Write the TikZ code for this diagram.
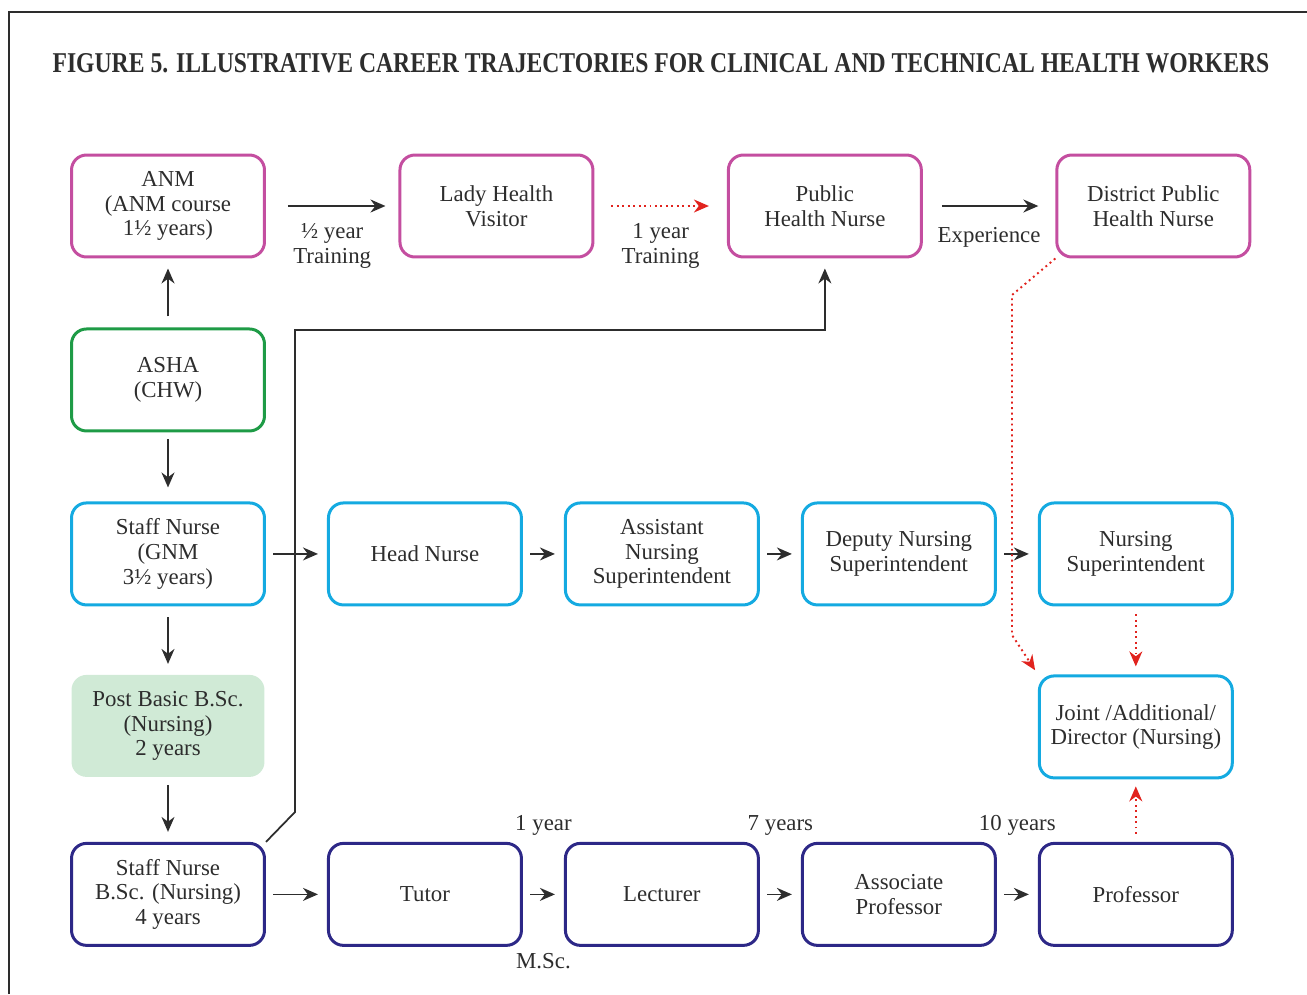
\documentclass[tikz,border=0pt]{standalone}
\usepackage{fontspec}
\setmainfont{Liberation Serif}
\usetikzlibrary{arrows.meta, positioning}
\definecolor{anmpink}{RGB}{196, 78, 160}
\definecolor{ashagreen}{RGB}{30, 155, 70}
\definecolor{nursecyan}{RGB}{20, 170, 225}
\definecolor{tutornavy}{RGB}{45, 40, 135}
\definecolor{postgreen}{RGB}{208, 234, 214}
\definecolor{pathred}{RGB}{225, 35, 30}
\definecolor{inkgray}{RGB}{45, 45, 45}

\begin{document}
\begin{tikzpicture}[
        x=0.02cm, y=-0.02cm,
        node distance=1.38cm,
        every node/.style={font=\fontsize{13pt}{14pt}\selectfont, text=inkgray},
        box/.style={rectangle, rounded corners=0.3cm, minimum width=3.86cm, minimum height=2.04cm, align=center, line width=0.06cm},
        visitorbox/.style={box, draw=anmpink},
        ashabox/.style={box, draw=ashagreen},
        nursebox/.style={box, draw=nursecyan},
        tutorbox/.style={box, draw=tutornavy},
        arrow/.style={line width=1pt, draw=inkgray, -{Stealth[length=0.3cm, width=0.26cm]}},
        stepline/.style={arrow, shorten <=0.15cm, shorten >=0.18cm},
        redarrow/.style={line width=1.1pt, dotted, draw=pathred, -{Stealth[length=0.3cm, width=0.26cm]}},
        note/.style={align=center}
    ]
        \useasboundingbox (0,0) rectangle (1307,994);
        \draw[line width=0.04cm, inkgray] (9,994) -- (9,12) -- (1307,12);

        % Title
        \node (title) at (661,63) {\resizebox{24.34cm}{0.38cm}{\bfseries FIGURE 5. ILLUSTRATIVE CAREER TRAJECTORIES FOR CLINICAL AND TECHNICAL HEALTH WORKERS}};

        % Top row
        \node[visitorbox] (anm) at (168,206) {ANM\\(ANM course\\1½ years)};
        \node[visitorbox, right=2.65cm of anm] (lhv) {Lady Health\\Visitor};
        \node[visitorbox, right=2.65cm of lhv] (phn) {Public\\Health Nurse};
        \node[visitorbox, right=2.65cm of phn] (dphn) {District Public\\Health Nurse};

        % Left column
        \node[ashabox, below=of anm] (asha) {ASHA\\(CHW)};
        \node[nursebox, below=of asha] (gnm) {Staff Nurse\\(GNM\\3½ years)};
        \node[box, fill=postgreen, line width=0pt, below=1.37cm of gnm] (postbsc) {Post Basic B.Sc.\\(Nursing)\\2 years};
        \node[tutorbox, below=1.3cm of postbsc] (bsc) {Staff Nurse\\B.Sc. (Nursing)\\4 years};

        % Nursing row
        \node[nursebox, right=1.22cm of gnm] (head) {Head Nurse};
        \node[nursebox, right=0.82cm of head] (ans) {Assistant\\Nursing\\Superintendent};
        \node[nursebox, right=0.82cm of ans] (dns) {Deputy Nursing\\Superintendent};
        \node[nursebox, right=0.82cm of dns] (ns) {Nursing\\Superintendent};
        \node[nursebox, below=1.36cm of ns] (joint) {Joint /Additional/\\Director (Nursing)};

        % Teaching row
        \node[tutorbox, right=1.22cm of bsc] (tutor) {Tutor};
        \node[tutorbox, right=0.82cm of tutor] (lecturer) {Lecturer};
        \node[tutorbox, right=0.82cm of lecturer] (assoc) {Associate\\Professor};
        \node[tutorbox, right=0.82cm of assoc] (prof) {Professor};

        % Top row arrows
        \draw[arrow, shorten <=0.44cm, shorten >=0.26cm] (anm) -- node[note, below=0.22cm] {½ year\\Training} (lhv);
        \draw[redarrow, shorten <=0.34cm, shorten >=0.36cm] (lhv) -- node[note, below=0.22cm] {1 year\\Training} (phn);
        \draw[arrow, shorten <=0.38cm, shorten >=0.34cm] (phn) -- node[below=0.3cm] {Experience} (dphn);

        % Left column arrows
        \draw[arrow, shorten <=0.22cm, shorten >=0.2cm] (asha) -- (anm);
        \draw[arrow, shorten <=0.14cm, shorten >=0.28cm] (asha) -- (gnm);
        \draw[arrow, shorten <=0.22cm, shorten >=0.22cm] (gnm) -- (postbsc);
        \draw[arrow, shorten <=0.16cm, shorten >=0.2cm] (postbsc) -- (bsc);

        % Nursing row arrows
        \draw[stepline] (gnm) -- (head);
        \draw[stepline] (head) -- (ans);
        \draw[stepline] (ans) -- (dns);
        \draw[stepline] (dns) -- (ns);

        % Teaching row arrows
        \draw[stepline] (bsc) -- (tutor);
        \draw[stepline] (tutor) -- (lecturer);
        \draw[stepline] (lecturer) -- (assoc);
        \draw[stepline] (assoc) -- (prof);
        \path (tutor.north east) -- node[above=0cm] {1 year} (lecturer.north west);
        \path (tutor.south east) -- node[below=0cm] {M.Sc.} (lecturer.south west);
        \path (lecturer.north east) -- node[above=0cm] {7 years} (assoc.north west);
        \path (assoc.north east) -- node[above=0cm] {10 years} (prof.north west);

        % B.Sc. to Public Health Nurse
        \coordinate (elbow) at (295,812);
        \coordinate (jog) at (295,330);
        \draw[arrow, shorten >=0.2cm] (bsc.north east) -- (elbow) -- (jog) -| (phn.south);

        % Routes to the directorate
        \coordinate (dropA) at (1012,295);
        \coordinate (dropB) at (1012,635);
        \draw[redarrow, shorten >=0.1cm] (dphn.south west) -- (dropA) -- (dropB) -- (joint.north west);
        \draw[redarrow, shorten <=0.16cm, shorten >=0.16cm] (ns) -- (joint);
        \draw[redarrow, shorten <=0.16cm, shorten >=0.14cm] (prof) -- (joint);

    \end{tikzpicture}
\end{document}
